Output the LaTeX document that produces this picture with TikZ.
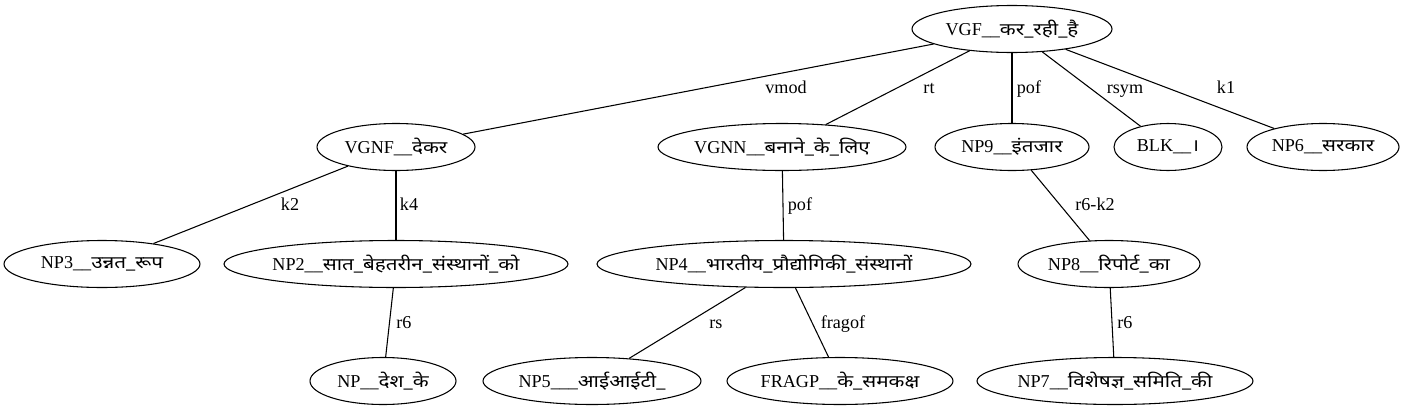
\documentclass[tikz,border=0pt]{standalone}
\usepackage{graphicx}
\usepackage{fontspec}
\setmainfont{Liberation Serif}
\newfontfamily\deva[Script=Devanagari,Scale=0.95]{Noto Sans}
\usetikzlibrary{shapes.geometric}
\newcommand{\tk}[2]{\makebox[0pt]{#1\scalebox{1.2}[1]{\deva #2}}}
\tikzset{
  tok/.style={draw, ellipse, inner sep=0pt, minimum height=35.25pt},
  rel/.style={inner sep=0pt, anchor=base},
}
\begin{document}
\begin{tikzpicture}[x=0.75pt, y=-0.75pt, line width=0.8pt, font=\fontsize{13.6}{16}\selectfont]
        \useasboundingbox (0,0) rectangle (1404,411);
        % Below nodes are the chunks, one rank per row.
            \node[tok, minimum width=150pt] (vgf) at (1012,29) {\tk{VGF\_\_}{कर\_रही\_है}};
            \node[tok, minimum width=118.5pt] (vgnf) at (396,147) {\tk{VGNF\_\_}{देकर}};
            \node[tok, minimum width=186pt] (vgnn) at (782,147) {\tk{VGNN\_\_}{बनाने\_के\_लिए}};
            \node[tok, minimum width=115.5pt] (np9) at (1012,147) {\tk{NP9\_\_}{इंतजार}};
            \node[tok, minimum width=81pt] (blk) at (1168,147) {\tk{BLK\_\_}{।}};
            \node[tok, minimum width=114pt] (np6) at (1323,147) {\tk{NP6\_\_}{सरकार}};
            \node[tok, minimum width=147pt] (np3) at (102,264) {\tk{NP3\_\_}{उन्नत\_रूप}};
            \node[tok, minimum width=258pt] (np2) at (396,264) {\tk{NP2\_\_}{सात\_बेहतरीन\_संस्थानों\_को}};
            \node[tok, minimum width=280.5pt] (np4) at (784,264) {\tk{NP4\_\_}{भारतीय\_प्रौद्योगिकी\_संस्थानों}};
            \node[tok, minimum width=136.5pt] (np8) at (1109,264) {\tk{NP8\_\_}{रिपोर्ट\_का}};
            \node[tok, minimum width=109.5pt] (np) at (383,381) {\tk{NP\_\_}{देश\_के}};
            \node[tok, minimum width=163.5pt] (np5) at (592,381) {\tk{NP5\_\_\_}{आईआईटी\_}};
            \node[tok, minimum width=169.5pt] (fragp) at (840,381) {\tk{FRAGP\_\_}{के\_समकक्ष}};
            \node[tok, minimum width=207pt] (np7) at (1115,381) {\tk{NP7\_\_}{विशेषज्ञ\_समिति\_की}};
        % This draws the relations.
            \draw (vgf) -- (vgnf);
            \draw (vgf) -- (vgnn);
            \draw (vgf) -- (np9);
            \draw (vgf) -- (blk);
            \draw (vgf) -- (np6);
            \draw (vgnf) -- (np3);
            \draw (vgnf) -- (np2);
            \draw (vgnn) -- (np4);
            \draw (np9) -- (np8);
            \draw (np2) -- (np);
            \draw (np4) -- (np5);
            \draw (np4) -- (fragp);
            \draw (np8) -- (np7);
        % Below nodes are the labels.
            \node[rel] (lvmod) at (786,93) {vmod};
            \node[rel] (lrt) at (929,93) {rt};
            \node[rel] (lpof) at (1029,93) {pof};
            \node[rel] (lrsym) at (1125,93) {rsym};
            \node[rel] (lkone) at (1226,93) {k1};
            \node[rel] (lktwo) at (290,210) {k2};
            \node[rel] (lkfour) at (409,210) {k4};
            \node[rel] (lpoftwo) at (800,210) {pof};
            \node[rel] (lrsixk) at (1095,210) {r6-k2};
            \node[rel] (lrsix) at (404,328) {r6};
            \node[rel] (lrs) at (716,328) {rs};
            \node[rel] (lfragof) at (843,328) {fragof};
            \node[rel] (lrsixtwo) at (1125,328) {r6};
\end{tikzpicture}
\end{document}
